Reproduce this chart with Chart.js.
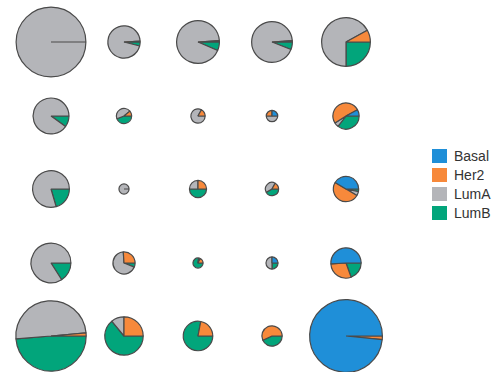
<!DOCTYPE html>
<html><head><meta charset="utf-8">
<script src="https://cdn.jsdelivr.net/npm/chart.js@4/dist/chart.umd.min.js"></script>
<style>
body{margin:0;background:#fff;width:495px;height:372px;position:relative;overflow:hidden;font-family:"Liberation Sans",Arial,sans-serif}
canvas.pie{position:absolute}
#legend{position:absolute;left:432px;top:149px}
.item{display:flex;align-items:center;height:14px;margin-bottom:5px;font-size:14px;color:#333}
.sw{width:15px;height:14px;margin-right:7px;flex:none}
</style></head><body>
<div id="legend"></div>
<script>
// subtype groups (legend labels)
const groups = ['Basal', 'Her2', 'LumA', 'LumB'];
// 5x5 grid of pies, row-major; values are percentages of each pie
const basal = [0,0,0,0,0,   0,0,0,25,8,    0,0,0,0,41.5,   0,0,0,25,51,    0,0,0,0,98.4];
const her2  = [0,1,1,1,8,   0,11,17,25,51, 0,0,25,17,50,   0,26,18,0,29.5, 1.4,25,22,57,1.6];
const lumA  = [100,95,92.5,93,67, 90,45,83,50,5.5, 79.5,100,25,41,5.2, 84,68,5,50,0, 49.9,11,0,0,0];
const lumB  = [0,4,6.5,6,25, 10,44,0,0,35.5, 20.5,0,50,42,3.3, 16,6,77,25,19.5, 48.7,64,78,43,0];
// sample count in each cell (pie area proportional to count)
const counts = [315,70,121,110,156, 86,17,15,10,47, 90,8,21,13,44, 105,34,8,11,62, 320,98,59,29,342];

const colors = {Basal:'#1f8fd8', Her2:'#f7893b', LumA:'#b4b5b9', LumB:'#02a57b'};
const nCols = 5;
const x0 = 50.5, dx = 73.75, y0 = 42, dy = 73.5, box = 84;

// legend
const leg = document.getElementById('legend');
groups.forEach(g => {
  const it = document.createElement('div'); it.className = 'item';
  const sw = document.createElement('div'); sw.className = 'sw'; sw.style.background = colors[g];
  const tx = document.createElement('span'); tx.textContent = g;
  it.appendChild(sw); it.appendChild(tx); leg.appendChild(it);
});

counts.forEach((n, i) => {
  const r = Math.floor(i / nCols), c = i % nCols;
  const cv = document.createElement('canvas');
  cv.className = 'pie'; cv.width = box; cv.height = box;
  cv.style.width = box + 'px'; cv.style.height = box + 'px';
  cv.style.left = (x0 + c * dx - box / 2) + 'px';
  cv.style.top = (y0 + r * dy - box / 2) + 'px';
  document.body.appendChild(cv);
  // reversed order drawn clockwise from east == counter-clockwise order from east
  const order = ['LumB', 'LumA', 'Her2', 'Basal'];
  const vals = {Basal: basal[i], Her2: her2[i], LumA: lumA[i], LumB: lumB[i]};
  new Chart(cv, {
    type: 'pie',
    data: {
      labels: order,
      datasets: [{
        data: order.map(k => vals[k]),
        backgroundColor: order.map(k => colors[k]),
        borderColor: '#4a4a4a',
        borderWidth: 1.2
      }]
    },
    options: {
      responsive: false,
      animation: false,
      rotation: 90,
      radius: 2 * Math.sqrt(n) - 0.6,
      layout: {padding: 0},
      plugins: {legend: {display: false}, tooltip: {enabled: false}}
    }
  });
});
</script>
</body></html>
